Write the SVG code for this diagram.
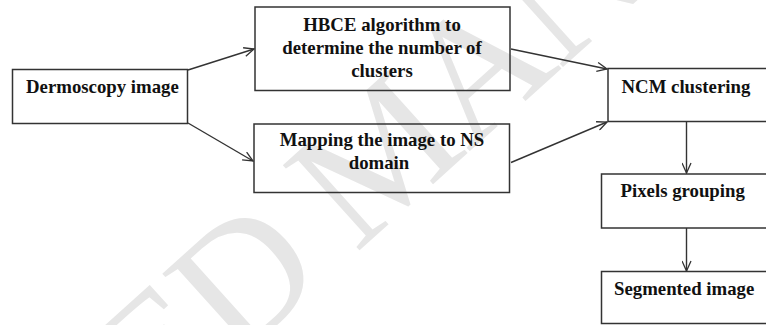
<svg xmlns="http://www.w3.org/2000/svg" width="766" height="325" viewBox="0 0 766 325">
  <style>
    .box { fill: none; stroke: #333333; stroke-width: 1.5; }
    .lbl { font-family: "Liberation Serif", "Times New Roman", serif; font-weight: bold; font-size: 18.8px; fill: #111111; }
    .mid { text-anchor: middle; }
    .conn { fill: none; stroke: #333333; stroke-width: 1.4; marker-end: url(#arrow); }
    .wm { font-family: "Liberation Serif", "Times New Roman", serif; font-size: 175px; fill: #e6e6e6; letter-spacing: -4px; }
  </style>
  <defs>
    <marker id="arrow" viewBox="0 0 12 10" refX="11" refY="5" markerWidth="12" markerHeight="10" markerUnits="userSpaceOnUse" orient="auto">
      <path d="M1,0.5 L11,5 L1,9.5" fill="none" stroke="#333333" stroke-width="1.3"/>
    </marker>
  </defs>
  <rect width="766" height="325" fill="#ffffff"/>
  <g id="watermark">
    <text class="wm" transform="translate(-322,864) rotate(-42)" x="0" y="0">ACCEPTED MANUSCRIPT</text>
  </g>
  <g id="connectors">
    <path class="conn" d="M188,70 L254,49"/>
    <path class="conn" d="M188,123 L253,161"/>
    <path class="conn" d="M511,49 L607,69"/>
    <path class="conn" d="M511,162.5 L607,122"/>
    <path class="conn" d="M686.5,122 L686.5,173"/>
    <path class="conn" d="M686.5,228 L686.5,271"/>
  </g>
  <g id="dermoscopy">
    <rect class="box" x="12.5" y="69.5" width="175" height="54"/>
    <text class="lbl" x="26" y="93">Dermoscopy image</text>
  </g>
  <g id="hbce">
    <rect class="box" x="255" y="7" width="255" height="83.5"/>
    <text class="lbl mid" x="382" y="31">HBCE algorithm to</text>
    <text class="lbl mid" x="382" y="53.5">determine the number of</text>
    <text class="lbl mid" x="382" y="76.5">clusters</text>
  </g>
  <g id="mapping">
    <rect class="box" x="254" y="124" width="255.5" height="68.5"/>
    <text class="lbl mid" x="382" y="146">Mapping the image to NS</text>
    <text class="lbl mid" x="379" y="169">domain</text>
  </g>
  <g id="ncm">
    <rect class="box" x="608" y="68.5" width="170" height="53"/>
    <text class="lbl" x="621.5" y="92.5">NCM clustering</text>
  </g>
  <g id="pixels">
    <rect class="box" x="601.5" y="174" width="180" height="54"/>
    <text class="lbl" x="620.5" y="196.5">Pixels grouping</text>
  </g>
  <g id="segmented">
    <rect class="box" x="601.5" y="271.5" width="180" height="52"/>
    <text class="lbl" x="614" y="295">Segmented image</text>
  </g>
</svg>
